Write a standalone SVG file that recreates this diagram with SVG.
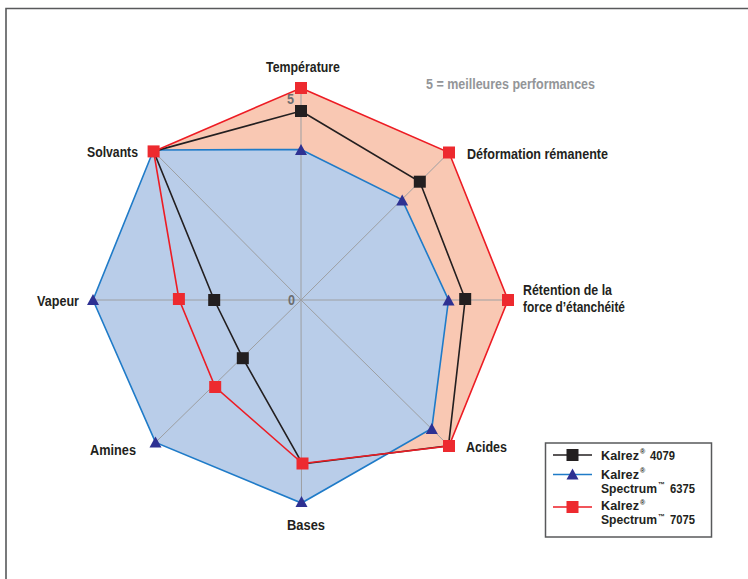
<svg xmlns="http://www.w3.org/2000/svg" xmlns:xlink="http://www.w3.org/1999/xlink" width="748" height="579" viewBox="0 0 748 579">
<style>
.lbl{font-family:"Liberation Sans Narrow","Liberation Sans",Arial,sans-serif;font-weight:bold;font-size:14.5px;fill:#231f20}
.leg{font-family:"Liberation Sans Narrow","Liberation Sans",Arial,sans-serif;font-weight:bold;font-size:12.5px;fill:#231f20}
.sup{font-family:"Liberation Sans","DejaVu Sans",Arial,sans-serif;font-weight:bold;font-size:7px;fill:#231f20}
.note{font-family:"Liberation Sans Narrow","Liberation Sans",Arial,sans-serif;font-weight:bold;font-size:14.5px;fill:#939598}
.tick{font-family:"Liberation Sans Narrow","Liberation Sans",Arial,sans-serif;font-weight:bold;font-size:14px;fill:#6d6e71}
.axis{stroke:#9d9fa2;stroke-width:1;fill:none}
.lk{fill:none;stroke:#231f20;stroke-width:1.6}
.lb{fill:none;stroke:#1f7bc8;stroke-width:1.6}
.lr{fill:none;stroke:#ed1c24;stroke-width:1.6}
.mk{fill:#231f20}
.mr{fill:#ed2a2f}
.mb{fill:#2e3192}
</style>
<defs>
<rect id="sq" x="-6" y="-6" width="12" height="12"/>
<polygon id="tri" points="0,-7 6,4 -6,4"/>
</defs>
<rect width="748" height="579" fill="#ffffff"/>
<g id="frame" stroke="#58595b" stroke-width="1.6" fill="none">
<polyline points="6,579 6,8.5 748,8.5"/>
</g>
<g id="fills">
<polygon fill="#f9c8b3" points="301,88 449,152.5 508,300 449,446 302.5,463.5 215.2,387 178.9,299 153.6,151.4"/>
<polygon fill="#b9cde9" points="301,149.5 402.2,199.8 448.5,300 431.8,428.4 301.5,503 155.5,442.4 93,300 153.6,150"/>
</g>
<g id="axes" class="axis">
<line x1="301" y1="300" x2="301" y2="88"/>
<line x1="301" y1="300" x2="449" y2="152.5"/>
<line x1="301" y1="300" x2="508" y2="300"/>
<line x1="301" y1="300" x2="449" y2="446"/>
<line x1="301" y1="300" x2="301.5" y2="503"/>
<line x1="301" y1="300" x2="155.5" y2="442.4"/>
<line x1="301" y1="300" x2="93" y2="300"/>
<line x1="301" y1="300" x2="153.6" y2="151.4"/>
</g>
<g id="connectors">
<polygon class="lb" points="301,149.5 402.2,199.8 448.5,300 431.8,428.4 301.5,503 155.5,442.4 93,300 153.6,150"/>
<polygon class="lk" points="301,111 419.8,181.7 465.2,299 448.5,445.7 302.5,464 242.8,358.2 214.2,300 153.6,151.4"/>
<polygon class="lr" points="301,88 449,152.5 508,300 449,446 302.5,463.5 215.2,387 178.9,299 153.6,151.4"/>
</g>
<g id="series-6375">
<use xlink:href="#tri" class="mb" x="301" y="151"/>
<use xlink:href="#tri" class="mb" x="402.2" y="201.5"/>
<use xlink:href="#tri" class="mb" x="448.5" y="301.5"/>
<use xlink:href="#tri" class="mb" x="431.8" y="430"/>
<use xlink:href="#tri" class="mb" x="301.5" y="503"/>
<use xlink:href="#tri" class="mb" x="155.5" y="443.5"/>
<use xlink:href="#tri" class="mb" x="93" y="301"/>
</g>
<g id="series-4079">
<use xlink:href="#sq" class="mk" x="301" y="111"/>
<use xlink:href="#sq" class="mk" x="419.8" y="181.7"/>
<use xlink:href="#sq" class="mk" x="465.2" y="299"/>
<use xlink:href="#sq" class="mk" x="242.8" y="358.2"/>
<use xlink:href="#sq" class="mk" x="214.2" y="300"/>
</g>
<g id="series-7075">
<use xlink:href="#sq" class="mr" x="301" y="88"/>
<use xlink:href="#sq" class="mr" x="449" y="152.5"/>
<use xlink:href="#sq" class="mr" x="508" y="300"/>
<use xlink:href="#sq" class="mr" x="449" y="446"/>
<use xlink:href="#sq" class="mr" x="302.5" y="463.5"/>
<use xlink:href="#sq" class="mr" x="215.2" y="387"/>
<use xlink:href="#sq" class="mr" x="178.9" y="299"/>
<use xlink:href="#sq" class="mr" x="153.6" y="151.4"/>
</g>
<g id="scale">
<text class="tick" x="287" y="103.5" textLength="7" lengthAdjust="spacingAndGlyphs">5</text>
<text class="tick" x="288" y="305" textLength="7" lengthAdjust="spacingAndGlyphs">0</text>
<text class="note" x="426" y="88.5" textLength="169" lengthAdjust="spacingAndGlyphs">5 = meilleures performances</text>
</g>
<g id="labels">
<text id="temperature" class="lbl" x="266" y="72" textLength="74" lengthAdjust="spacingAndGlyphs">Température</text>
<text id="deformation" class="lbl" x="467" y="158.5" textLength="141" lengthAdjust="spacingAndGlyphs">Déformation rémanente</text>
<text id="retention1" class="lbl" x="523" y="295" textLength="89" lengthAdjust="spacingAndGlyphs">Rétention de la</text>
<text id="retention2" class="lbl" x="523" y="312" textLength="102" lengthAdjust="spacingAndGlyphs">force d’étanchéité</text>
<text id="acides" class="lbl" x="466" y="451.5" textLength="41" lengthAdjust="spacingAndGlyphs">Acides</text>
<text id="bases" class="lbl" x="287" y="530" textLength="38" lengthAdjust="spacingAndGlyphs">Bases</text>
<text id="amines" class="lbl" x="90" y="455" textLength="46" lengthAdjust="spacingAndGlyphs">Amines</text>
<text id="vapeur" class="lbl" x="37" y="306" textLength="42" lengthAdjust="spacingAndGlyphs">Vapeur</text>
<text id="solvants" class="lbl" x="87" y="157" textLength="51" lengthAdjust="spacingAndGlyphs">Solvants</text>
</g>
<g id="legend">
<rect x="545.5" y="443" width="166" height="94" fill="#ffffff" stroke="#58595b" stroke-width="1.5"/>
<line x1="553" y1="455" x2="592" y2="455" stroke="#231f20" stroke-width="1.6"/>
<use xlink:href="#sq" class="mk" x="572.5" y="455"/>
<line x1="553" y1="474.5" x2="592" y2="474.5" stroke="#1f7bc8" stroke-width="1.6"/>
<use xlink:href="#tri" class="mb" x="572.5" y="475.5"/>
<line x1="553" y1="507" x2="592" y2="507" stroke="#ed1c24" stroke-width="1.6"/>
<use xlink:href="#sq" class="mr" x="572.5" y="507"/>
<text class="leg" x="601" y="459.5" textLength="38" lengthAdjust="spacingAndGlyphs">Kalrez</text>
<text class="sup" x="640" y="454">®</text>
<text class="leg" x="650" y="459.5" textLength="25" lengthAdjust="spacingAndGlyphs">4079</text>
<text class="leg" x="601" y="478.5" textLength="38" lengthAdjust="spacingAndGlyphs">Kalrez</text>
<text class="sup" x="640" y="473">®</text>
<text class="leg" x="601" y="492.5" textLength="56" lengthAdjust="spacingAndGlyphs">Spectrum</text>
<text class="sup" x="658" y="487">™</text>
<text class="leg" x="670" y="492.5" textLength="25" lengthAdjust="spacingAndGlyphs">6375</text>
<text class="leg" x="601" y="510" textLength="38" lengthAdjust="spacingAndGlyphs">Kalrez</text>
<text class="sup" x="640" y="504.5">®</text>
<text class="leg" x="601" y="524" textLength="56" lengthAdjust="spacingAndGlyphs">Spectrum</text>
<text class="sup" x="658" y="518.5">™</text>
<text class="leg" x="670" y="524" textLength="25" lengthAdjust="spacingAndGlyphs">7075</text>
</g>
</svg>
